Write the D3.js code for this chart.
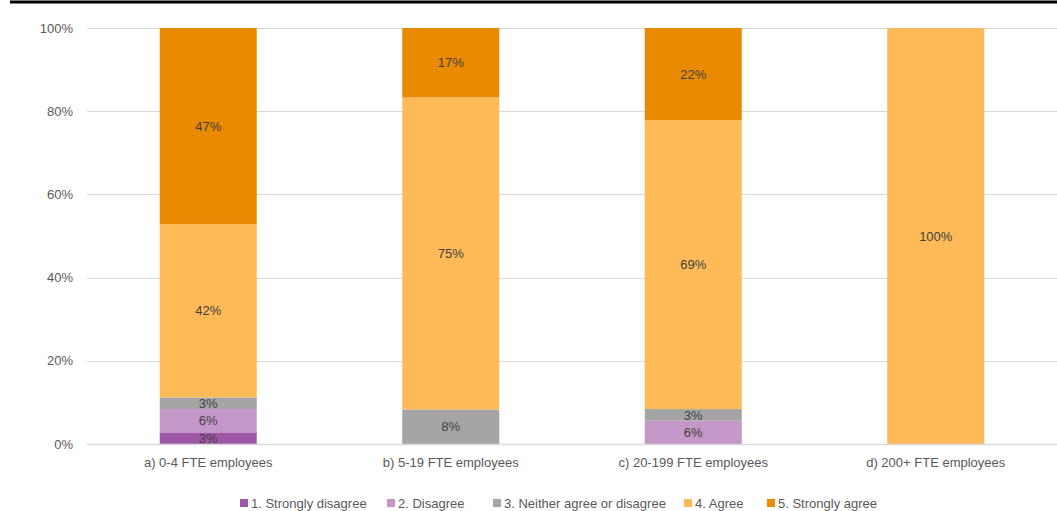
<!DOCTYPE html>
<html>
<head>
<meta charset="utf-8">
<script src="https://cdn.jsdelivr.net/npm/d3@7"></script>
<style>
  html, body { margin: 0; padding: 0; background: #fff; }
  svg { display: block; font-family: "Liberation Sans", Arial, sans-serif; }
</style>
</head>
<body>
<svg id="chart" width="1057" height="511"></svg>
<script>
// Company size groups
const categories = ["a) 0-4 FTE employees", "b) 5-19 FTE employees", "c) 20-199 FTE employees", "d) 200+ FTE employees"];

// Response shares (%) per group, in stacking order
const stronglyDisagree = [2.8, 0, 0, 0];
const disagree         = [5.6, 0, 5.6, 0];
const neither          = [2.8, 8.3, 2.8, 0];
const agree            = [41.7, 75.0, 69.4, 100];
const stronglyAgree    = [47.1, 16.7, 22.2, 0];

const seriesNames = ["1. Strongly disagree", "2. Disagree", "3. Neither agree or disagree", "4. Agree", "5. Strongly agree"];
const seriesValues = [stronglyDisagree, disagree, neither, agree, stronglyAgree];
const seriesColors = ["#9E56A6", "#C497C8", "#A5A5A5", "#FFBA58", "#EA8A00"];

const yTicks = [0, 20, 40, 60, 80, 100];

const svg = d3.select("#chart");
const W = 1057, H = 511;
const margin = { top: 28, right: 0, bottom: 67, left: 87 };
const plotW = W - margin.left - margin.right;
const plotH = H - margin.top - margin.bottom;
const font = "13px \"Liberation Sans\", Arial, sans-serif";

// Top rule
svg.append("line")
  .attr("x1", 10).attr("x2", W).attr("y1", 2).attr("y2", 2)
  .attr("stroke", "#000").attr("stroke-width", 3);

const g = svg.append("g").attr("transform", `translate(${margin.left},${margin.top})`);

const x = d3.scaleBand().domain(categories).range([0, plotW]).paddingInner(0.6).paddingOuter(0.3);
const y = d3.scaleLinear().domain([0, 100]).range([plotH, 0]);

// Gridlines
g.append("g").selectAll("line").data(yTicks).join("line")
  .attr("x1", 0).attr("x2", plotW)
  .attr("y1", d => Math.round(y(d)) + 0.5).attr("y2", d => Math.round(y(d)) + 0.5)
  .attr("stroke", "#D9D9D9").attr("stroke-width", 1);

// Y axis labels
const yAxis = d3.axisLeft(y).tickValues(yTicks).tickFormat(d => d + "%").tickSize(0).tickPadding(14);
const yg = g.append("g").call(yAxis);
yg.select(".domain").remove();
yg.selectAll("text").attr("fill", "#595959").style("font", font);

// X axis labels
const xAxis = d3.axisBottom(x).tickSize(0).tickPadding(14);
const xg = g.append("g").attr("transform", `translate(0,${plotH})`).call(xAxis);
xg.select(".domain").remove();
xg.selectAll("text").attr("fill", "#595959").style("font", font);

// Stack data
const rows = categories.map((c, i) => {
  const r = { cat: c };
  seriesNames.forEach((s, j) => { r[s] = seriesValues[j][i]; });
  return r;
});
const layers = d3.stack().keys(seriesNames)(rows);

const layerG = g.selectAll(".layer").data(layers).join("g")
  .attr("class", "layer")
  .attr("fill", (d, i) => seriesColors[i]);

layerG.selectAll("rect").data(d => d.filter(p => p[1] - p[0] > 0)).join("rect")
  .attr("x", d => x(d.data.cat))
  .attr("width", x.bandwidth())
  .attr("y", d => y(d[1]))
  .attr("height", d => y(d[0]) - y(d[1]));

// Value labels
layerG.selectAll("text").data(d => d.filter(p => p[1] - p[0] > 0)).join("text")
  .attr("x", d => x(d.data.cat) + x.bandwidth() / 2)
  .attr("y", d => (y(d[0]) + y(d[1])) / 2)
  .attr("dy", "0.36em")
  .attr("text-anchor", "middle")
  .attr("fill", "#404040")
  .style("font", font)
  .text(d => Math.round(d[1] - d[0]) + "%");

// Baseline
g.append("line")
  .attr("x1", 0).attr("x2", plotW)
  .attr("y1", Math.round(plotH) + 0.5).attr("y2", Math.round(plotH) + 0.5)
  .attr("stroke", "#D9D9D9").attr("stroke-width", 1.5);

// Legend
const legend = svg.append("g").attr("transform", "translate(0,503)");
const legendX = [240, 387, 493, 684, 767];
const items = legend.selectAll("g").data(seriesNames).join("g")
  .attr("transform", (d, i) => `translate(${legendX[i]},0)`);
items.append("rect").attr("x", 0).attr("y", -4).attr("width", 8).attr("height", 8)
  .attr("fill", (d, i) => seriesColors[i]);
items.append("text").attr("x", 11).attr("y", 0).attr("dy", "0.35em")
  .attr("fill", "#595959").style("font", font)
  .text(d => d);
</script>
</body>
</html>
